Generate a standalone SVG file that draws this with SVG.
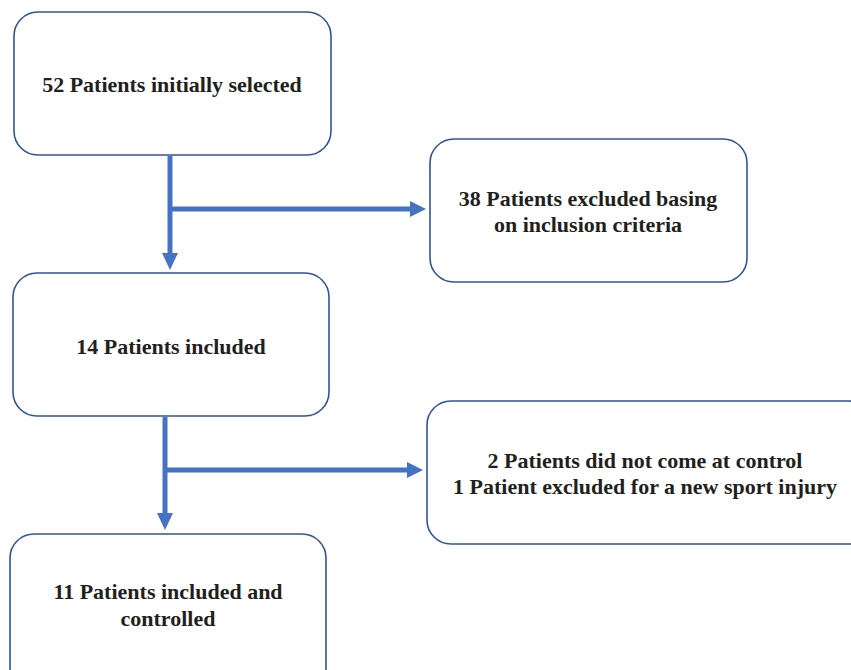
<svg xmlns="http://www.w3.org/2000/svg" width="851" height="670" viewBox="0 0 851 670">
<style>
.box{fill:#fff;stroke:#2F5597;stroke-width:1.6}
.t{font-family:"Liberation Serif","Times New Roman",serif;font-weight:bold;font-size:22px;fill:#231F20;text-anchor:middle}
.c{stroke:#4472C4;stroke-width:5;fill:none}
.h{fill:#4472C4}
</style>
<rect width="851" height="670" fill="#fff"/>
<g id="connectors">
<line class="c" x1="170" y1="156" x2="170" y2="255"/>
<polygon class="h" points="162,253 178,253 170,270"/>
<line class="c" x1="170" y1="209" x2="412" y2="209"/>
<polygon class="h" points="410,201 410,217 426,209"/>
<line class="c" x1="165" y1="417" x2="165" y2="515"/>
<polygon class="h" points="157,513 173,513 165,530"/>
<line class="c" x1="165" y1="470" x2="409" y2="470"/>
<polygon class="h" points="407,462 407,478 423,470"/>
</g>
<g id="n1">
<rect class="box" x="14" y="12" width="317" height="143" rx="24"/>
<text class="t" x="172" y="92">52 Patients initially selected</text>
</g>
<g id="n2">
<rect class="box" x="430" y="139" width="317" height="143" rx="24"/>
<text class="t" x="588" y="206">38 Patients excluded basing</text>
<text class="t" x="588" y="232">on inclusion criteria</text>
</g>
<g id="n3">
<rect class="box" x="13" y="273" width="316" height="143" rx="24"/>
<text class="t" x="171" y="354">14 Patients included</text>
</g>
<g id="n4">
<rect class="box" x="427" y="401" width="445" height="143" rx="24"/>
<text class="t" x="645" y="468">2 Patients did not come at control</text>
<text class="t" x="645" y="494">1 Patient excluded for a new sport injury</text>
</g>
<g id="n5">
<rect class="box" x="10" y="534" width="316" height="160" rx="24"/>
<text class="t" x="168" y="599">11 Patients included and</text>
<text class="t" x="168" y="626">controlled</text>
</g>
</svg>
